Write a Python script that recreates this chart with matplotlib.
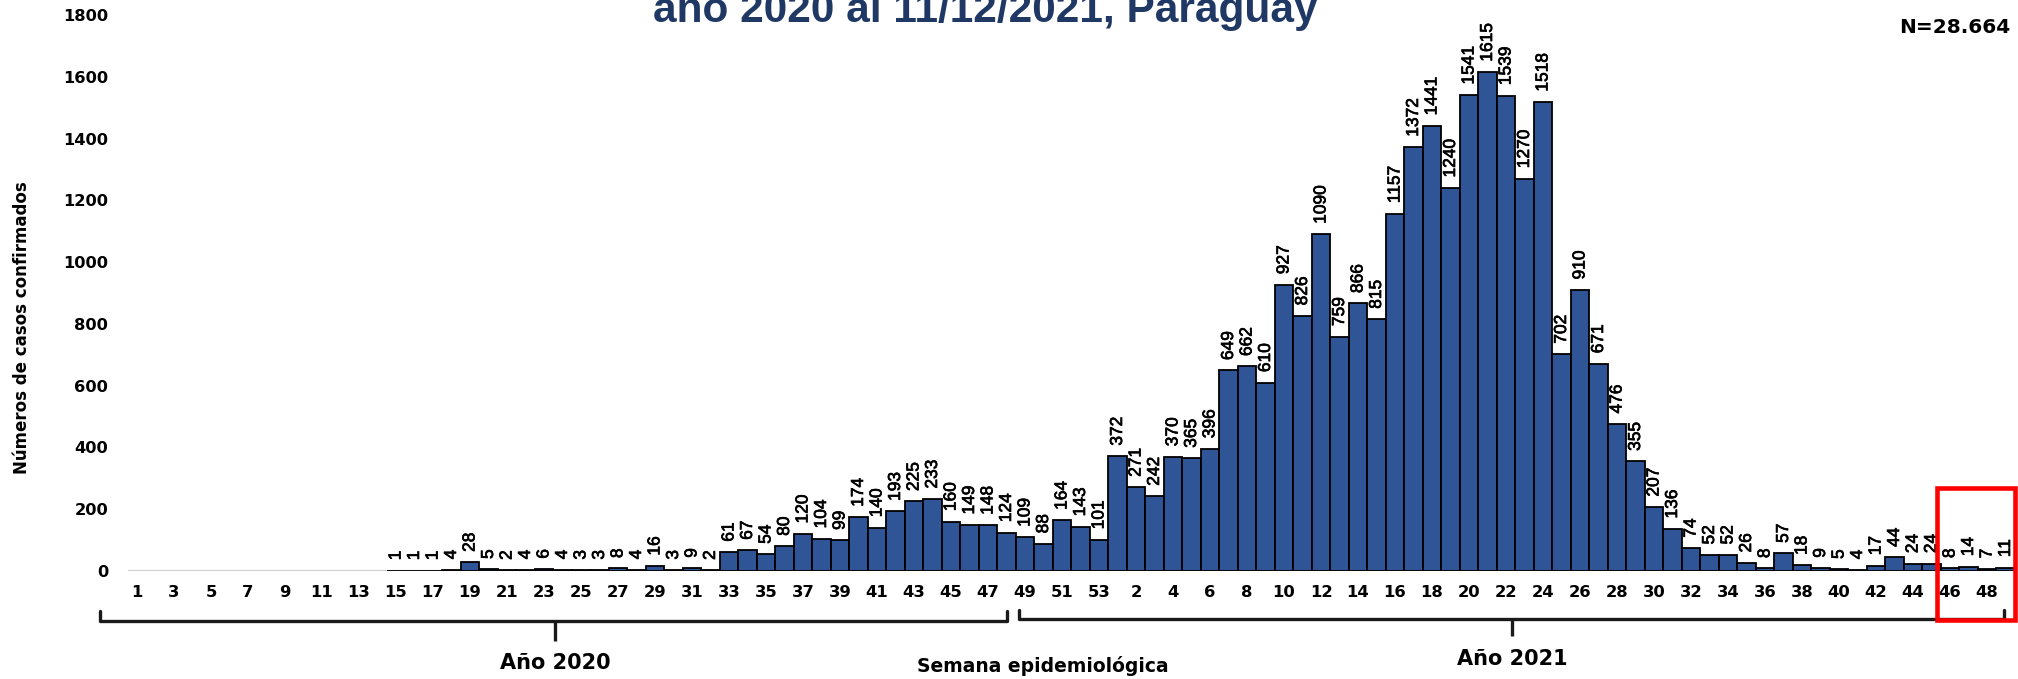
import matplotlib
matplotlib.use("Agg")
import matplotlib.pyplot as plt
from matplotlib import font_manager
import matplotlib.patheffects as pe
from matplotlib.transforms import blended_transform_factory
from matplotlib.patches import Rectangle
import numpy as np

# ---------------- data ----------------
weeks_2020 = list(range(1, 54))
cases_2020 = [0, 0, 0, 0, 0, 0, 0, 0, 0, 0, 0, 0, 0, 0,
              1, 1, 1, 4, 28, 5, 2, 4, 6, 4, 3, 3, 8, 4, 16, 3, 9, 2,
              61, 67, 54, 80, 120, 104, 99, 174, 140, 193, 225, 233, 160,
              149, 148, 124, 109, 88, 164, 143, 101]
weeks_2021 = list(range(1, 50))
cases_2021 = [372, 271, 242, 370, 365, 396, 649, 662, 610, 927, 826, 1090,
              759, 866, 815, 1157, 1372, 1441, 1240, 1541, 1615, 1539, 1270,
              1518, 702, 910, 671, 476, 355, 207, 136, 74, 52, 52, 26, 8, 57,
              18, 9, 5, 4, 17, 44, 24, 24, 8, 14, 7, 11]
y_ticks = [0, 200, 400, 600, 800, 1000, 1200, 1400, 1600, 1800]

title_text = "año 2020 al 11/12/2021, Paraguay"
n_text = "N=28.664"
ylabel_text = "Números de casos confirmados"
xlabel_text = "Semana epidemiológica"
year_labels = ["Año 2020", "Año 2021"]

# ---------------- style ----------------
BAR = "#2F5597"
NAVY = "#203864"

names = {f.name for f in font_manager.fontManager.ttflist}
if "Liberation Sans Narrow" in names:
    LBL_FAMILY, LBL_SIZE = "Liberation Sans Narrow", 15.2
else:
    LBL_FAMILY, LBL_SIZE = "Liberation Sans", 12.5
THICK = [pe.withStroke(linewidth=0.5, foreground="black")]

BOLD = "DejaVu Sans"

all_cases = np.array(cases_2020 + cases_2021)
all_weeks = weeks_2020 + weeks_2021
x = np.arange(len(all_cases))

fig = plt.figure(figsize=(20.18, 6.79), dpi=100)
ax = fig.add_axes([0.0633, 0.1591, 0.9351, 0.8189])

mask = all_cases > 0
ax.axhline(0, color="#cfcfcf", lw=1.6, zorder=1)
ax.bar(x[mask], all_cases[mask], width=1.0, color=BAR, edgecolor="black",
       linewidth=1.3, zorder=3)

for xi, v in zip(x[mask], all_cases[mask]):
    ax.annotate(str(v), (xi, v), xytext=(0, 7.5), textcoords="offset points",
                rotation=90, ha="center", va="bottom", family=LBL_FAMILY,
                fontsize=LBL_SIZE, color="black", zorder=5,
                path_effects=THICK)

ax.set_xlim(-0.5, 101.5)
ax.set_ylim(0, 1800)
ax.set_yticks(y_ticks)
ax.set_yticklabels([str(t) for t in y_ticks], family=BOLD, fontweight="bold",
                   fontsize=11.7)
ax.set_xticks(x[::2])
ax.set_xticklabels([str(all_weeks[i]) for i in x[::2]], family=BOLD,
                   fontweight="bold", fontsize=11.8)
ax.tick_params(axis="y", length=0, pad=14)
ax.tick_params(axis="x", length=0, pad=10)
for s in ax.spines.values():
    s.set_visible(False)

# y label
fig.text(0.011, 0.517, ylabel_text, rotation=90, ha="center", va="center",
         family=BOLD, fontweight="bold", fontsize=12)

# brackets under the axis (x in data coords, y in axes fraction)
tr = blended_transform_factory(ax.transData, ax.transAxes)
brackets = [(-2.0, 47.0, 22.6, -0.0899, -0.0719, -0.1259),
            (47.7, 100.9, 74.3, -0.0863, -0.0701, -0.117)]
for x0, x1, xm, yl, ye, yp in brackets:
    ax.plot([x0, x0, x1, x1], [ye, yl, yl, ye], transform=tr, color="#1a1a1a",
            lw=2.4, clip_on=False, solid_joinstyle="round",
            solid_capstyle="round")
    ax.plot([xm, xm], [yl, yp], transform=tr, color="#1a1a1a", lw=2.4,
            clip_on=False, solid_capstyle="butt")

fig.text(555 / 2018, 1 - 669 / 679, year_labels[0], ha="center",
         va="baseline", family=BOLD, fontweight="bold", fontsize=15)
fig.text(1512 / 2018, 1 - 665 / 679, year_labels[1], ha="center",
         va="baseline", family=BOLD, fontweight="bold", fontsize=15)
fig.text(1043 / 2018, 1 - 672 / 679, xlabel_text, ha="center",
         va="baseline", family=BOLD, fontweight="bold", fontsize=13.5)

# red highlight box
ax.add_patch(Rectangle((97.3, -0.088), 101.5 - 97.3, 0.149 + 0.088,
                       transform=tr, fill=False, edgecolor="#ff0000", lw=3.3,
                       clip_on=False, zorder=6))

# title (cut off at top like the reference) and N
fig.text(985 / 2018, 1 - 22 / 679, title_text, ha="center", va="baseline",
         family="Liberation Sans", fontweight="bold", fontsize=30.5,
         color=NAVY)
fig.text(2010 / 2018, 1 - 33 / 679, n_text, ha="right", va="baseline",
         family=BOLD, fontweight="bold", fontsize=14.5)

fig.savefig("out.png", dpi=100)
